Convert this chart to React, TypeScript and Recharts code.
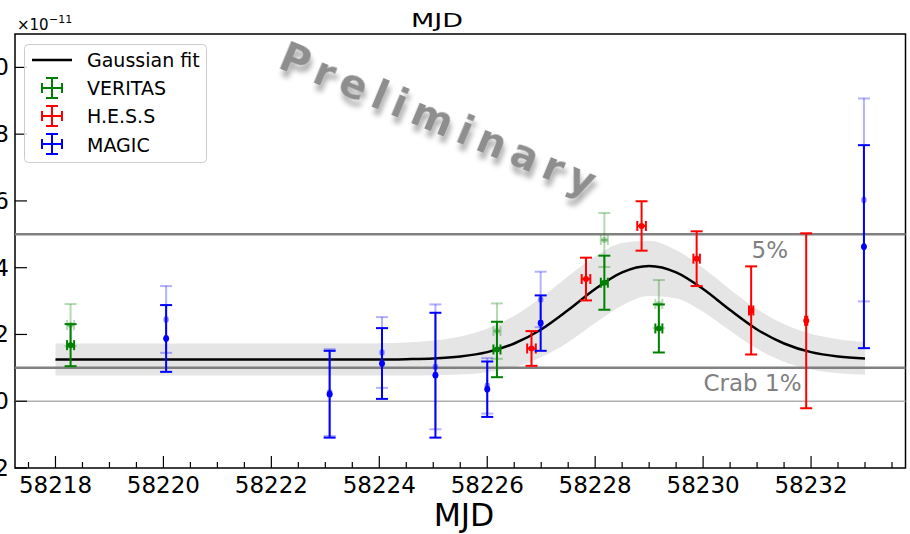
import React from "react";
import {
  Area,
  ComposedChart,
  ErrorBar,
  Label,
  Line,
  ReferenceArea,
  ReferenceLine,
  Scatter,
  XAxis,
  YAxis,
} from "recharts";

// flux values in units of 1e-11

const fitMjd = [
  58218, 58218.5, 58219, 58219.5, 58220, 58220.5, 58221, 58221.5, 58222,
  58222.5, 58223, 58223.5, 58224, 58224.5, 58225, 58225.5, 58226, 58226.5,
  58227, 58227.5, 58228, 58228.5, 58229, 58229.5, 58230, 58230.5, 58231,
  58231.5, 58232, 58232.5, 58233,
];
const fitFlux = [
  0.125, 0.125, 0.125, 0.125, 0.125, 0.125, 0.125, 0.125, 0.125, 0.125, 0.125,
  0.125, 0.125, 0.126, 0.128, 0.134, 0.147, 0.173, 0.215, 0.273, 0.336, 0.386,
  0.405, 0.386, 0.336, 0.273, 0.215, 0.173, 0.147, 0.134, 0.128,
];
const bandHigh = [
  0.173, 0.173, 0.173, 0.173, 0.173, 0.173, 0.173, 0.173, 0.173, 0.173, 0.173,
  0.173, 0.174, 0.176, 0.182, 0.194, 0.218, 0.256, 0.31, 0.374, 0.434, 0.474,
  0.481, 0.453, 0.399, 0.335, 0.276, 0.231, 0.202, 0.186, 0.178,
];
const bandLow = [
  0.077, 0.077, 0.077, 0.077, 0.077, 0.077, 0.077, 0.077, 0.077, 0.077, 0.077,
  0.077, 0.077, 0.077, 0.078, 0.08, 0.087, 0.102, 0.132, 0.177, 0.234, 0.287,
  0.315, 0.308, 0.268, 0.211, 0.157, 0.118, 0.095, 0.084, 0.079,
];

// VERITAS
const veritasMjd = [58218.28, 58226.18, 58228.17, 58229.18];
const veritasMjdErr = [0.065, 0.065, 0.065, 0.065];
const veritasFlux = [0.168, 0.155, 0.355, 0.218];
const veritasErr = [0.063, 0.083, 0.081, 0.072];
const veritasAltFlux = [0.228, 0.21, 0.483, 0.291];

// H.E.S.S
const hessMjd = [58226.82, 58227.83, 58228.86, 58229.88, 58230.89, 58231.91];
const hessMjdErr = [0.08, 0.08, 0.08, 0.06, 0.04, 0.02];
const hessFlux = [0.158, 0.366, 0.525, 0.427, 0.272, 0.241];
const hessErr = [0.052, 0.064, 0.074, 0.082, 0.132, 0.262];

// MAGIC
const magicMjd = [
  58220.05, 58223.08, 58224.05, 58225.04, 58226.0, 58226.99, 58232.98,
];
const magicMjdErr = [0.02, 0.02, 0.02, 0.02, 0.02, 0.02, 0.02];
const magicFlux = [0.188, 0.021, 0.113, 0.078, 0.036, 0.234, 0.463];
const magicErr = [0.1, 0.13, 0.106, 0.187, 0.083, 0.083, 0.304];
const magicAltFlux = [0.245, 0.026, 0.146, 0.103, 0.046, 0.305, 0.603];

const crabLevels = [0.1, 0.5];

const majorXTicks = [58218, 58220, 58222, 58224, 58226, 58228, 58230, 58232];
const allXTicks = Array.from({ length: 33 }, (_, i) => 58217.5 + i * 0.5);
const yTicks = [-0.2, 0, 0.2, 0.4, 0.6, 0.8, 1.0];
const yTickLabels = ["−0.2", "0.0", "0.2", "0.4", "0.6", "0.8", "1.0"];

const fitData = fitMjd.map((x, i) => ({
  x,
  fit: fitFlux[i],
  band: [bandLow[i], bandHigh[i]],
}));

const toPoints = (
  mjd: number[],
  mjdErr: number[],
  flux: number[],
  err: number[]
) => mjd.map((x, i) => ({ x, y: flux[i], ex: mjdErr[i], ey: err[i] }));

const veritas = toPoints(veritasMjd, veritasMjdErr, veritasFlux, veritasErr);
const veritasAlt = toPoints(veritasMjd, veritasMjdErr, veritasAltFlux, veritasErr);
const hess = toPoints(hessMjd, hessMjdErr, hessFlux, hessErr);
const magic = toPoints(magicMjd, magicMjdErr, magicFlux, magicErr);
const magicAlt = toPoints(magicMjd, magicMjdErr, magicAltFlux, magicErr);

const FONT = "DejaVu Sans";
const GREEN = "#008000";
const RED = "#ff0000";
const BLUE = "#0000ff";
const GREEN_FADED = "#0080004d";
const BLUE_FADED = "#0000ff4d";

const dot = (color: string) => (p: any) =>
  <circle cx={p.cx} cy={p.cy} r={3} fill={color} />;

const XTick = (props: any) => {
  const { x, y, payload } = props;
  const major = majorXTicks.some((t) => Math.abs(t - payload.value) < 1e-6);
  return (
    <g>
      <line
        x1={x}
        x2={x}
        y1={y}
        y2={y - (major ? 12 : 6)}
        stroke="#000"
        strokeWidth={1.2}
      />
      {major && (
        <text
          x={x}
          y={y + 25}
          textAnchor="middle"
          fontSize={23}
          fontFamily={FONT}
          fill="#000"
        >
          {payload.value}
        </text>
      )}
    </g>
  );
};

const YTick = (props: any) => {
  const { x, y, payload } = props;
  const idx = yTicks.findIndex((t) => Math.abs(t - payload.value) < 1e-6);
  return (
    <g>
      <line x1={x} x2={x + 12} y1={y} y2={y} stroke="#000" strokeWidth={1.2} />
      <text
        x={x - 6}
        y={y + 8}
        textAnchor="end"
        fontSize={23}
        fontFamily={FONT}
        fill="#000"
      >
        {idx >= 0 ? yTickLabels[idx] : ""}
      </text>
    </g>
  );
};

const levelLabel = (text: string, dx: number, anchor: string) => (p: any) => {
  const vb = p.viewBox || {};
  return (
    <text
      x={vb.x + vb.width - dx}
      y={vb.y + 23.5}
      textAnchor={anchor}
      fontSize={23}
      fontFamily={FONT}
      fill="#808080"
    >
      {text}
    </text>
  );
};

const ErrIcon = ({ cx, cy, color }: { cx: number; cy: number; color: string }) => (
  <g stroke={color} strokeWidth={2}>
    <line x1={cx} x2={cx} y1={cy - 10} y2={cy + 10} />
    <line x1={cx - 6} x2={cx + 6} y1={cy - 10} y2={cy - 10} />
    <line x1={cx - 6} x2={cx + 6} y1={cy + 10} y2={cy + 10} />
    <line x1={cx - 10} x2={cx + 10} y1={cy} y2={cy} />
    <line x1={cx - 10} x2={cx - 10} y1={cy - 5} y2={cy + 5} />
    <line x1={cx + 10} x2={cx + 10} y1={cy - 5} y2={cy + 5} />
  </g>
);

export default function App() {
  return (
    <div
      style={{
        position: "absolute",
        left: 0,
        top: 0,
        width: 910,
        height: 534,
        overflow: "hidden",
        background: "#fff",
      }}
    >
      <ComposedChart
        width={910}
        height={534}
        margin={{ top: 34, right: 4.5, bottom: 36, left: 0 }}
      >
        <XAxis
          type="number"
          dataKey="x"
          domain={[58217.25, 58233.75]}
          allowDataOverflow
          ticks={allXTicks}
          interval={0}
          height={30}
          tickSize={0}
          tickMargin={0}
          axisLine={false}
          tick={XTick}
        />
        <YAxis
          type="number"
          domain={[-0.2, 1.1]}
          allowDataOverflow
          ticks={yTicks}
          interval={0}
          width={15}
          tickSize={0}
          tickMargin={0}
          axisLine={false}
          tick={YTick}
        />
        <ReferenceLine y={0} stroke="#b0b0b0" strokeWidth={1.5} />
        <ReferenceLine y={crabLevels[0]} stroke="#808080" strokeWidth={2.5}>
          <Label content={levelLabel("Crab 1%", 104, "end")} />
        </ReferenceLine>
        <ReferenceLine y={crabLevels[1]} stroke="#808080" strokeWidth={2.5}>
          <Label content={levelLabel("5%", 154, "start")} />
        </ReferenceLine>
        <Area
          data={fitData}
          dataKey="band"
          type="monotone"
          stroke="none"
          fill="#000"
          fillOpacity={0.1}
          isAnimationActive={false}
        />
        <Line
          data={fitData}
          dataKey="fit"
          type="monotone"
          stroke="#000"
          strokeWidth={2.5}
          dot={false}
          isAnimationActive={false}
        />
        <Scatter
          data={veritasAlt}
          dataKey="y"
          fill={GREEN_FADED}
          shape={dot(GREEN_FADED)}
          isAnimationActive={false}
        >
          <ErrorBar dataKey="ey" direction="y" width={6} stroke={GREEN_FADED} strokeWidth={2} isAnimationActive={false} />
          <ErrorBar dataKey="ex" direction="x" width={5} stroke={GREEN_FADED} strokeWidth={2} isAnimationActive={false} />
        </Scatter>
        <Scatter
          data={magicAlt}
          dataKey="y"
          fill={BLUE_FADED}
          shape={dot(BLUE_FADED)}
          isAnimationActive={false}
        >
          <ErrorBar dataKey="ey" direction="y" width={6} stroke={BLUE_FADED} strokeWidth={2} isAnimationActive={false} />
          <ErrorBar dataKey="ex" direction="x" width={3} stroke={BLUE_FADED} strokeWidth={2} isAnimationActive={false} />
        </Scatter>
        <Scatter
          data={veritas}
          dataKey="y"
          fill={GREEN}
          shape={dot(GREEN)}
          isAnimationActive={false}
        >
          <ErrorBar dataKey="ey" direction="y" width={6} stroke={GREEN} strokeWidth={2} isAnimationActive={false} />
          <ErrorBar dataKey="ex" direction="x" width={5} stroke={GREEN} strokeWidth={2} isAnimationActive={false} />
        </Scatter>
        <Scatter
          data={hess}
          dataKey="y"
          fill={RED}
          shape={dot(RED)}
          isAnimationActive={false}
        >
          <ErrorBar dataKey="ey" direction="y" width={6} stroke={RED} strokeWidth={2} isAnimationActive={false} />
          <ErrorBar dataKey="ex" direction="x" width={5} stroke={RED} strokeWidth={2} isAnimationActive={false} />
        </Scatter>
        <Scatter
          data={magic}
          dataKey="y"
          fill={BLUE}
          shape={dot(BLUE)}
          isAnimationActive={false}
        >
          <ErrorBar dataKey="ey" direction="y" width={6} stroke={BLUE} strokeWidth={2} isAnimationActive={false} />
          <ErrorBar dataKey="ex" direction="x" width={3} stroke={BLUE} strokeWidth={2} isAnimationActive={false} />
        </Scatter>
        <ReferenceArea
          x1={58217.25}
          x2={58233.75}
          y1={-0.2}
          y2={1.1}
          fill="none"
          stroke="#000"
          strokeWidth={1.5}
          ifOverflow="visible"
        />
      </ComposedChart>

      {/* titles, legend and watermark */}
      <svg
        width={910}
        height={534}
        style={{ position: "absolute", left: 0, top: 0, pointerEvents: "none" }}
      >
        <defs>
          <filter id="wmShadow" x="-20%" y="-40%" width="140%" height="180%">
            <feDropShadow dx="4" dy="6" stdDeviation="2.5" floodColor="#000" floodOpacity="0.3" />
          </filter>
        </defs>
        <text x={437} y={27} textAnchor="middle" fontSize={20} fontFamily={FONT} textLength={52} lengthAdjust="spacingAndGlyphs">
          MJD
        </text>
        <text x={464} y={526} textAnchor="middle" fontSize={31.5} fontFamily={FONT}>
          MJD
        </text>
        <text x={17} y={30} fontSize={15} fontFamily={FONT}>
          ×10
        </text>
        <text x={49} y={22.5} fontSize={11} fontFamily={FONT}>
          −11
        </text>

        <text
          x={438}
          y={119}
          textAnchor="middle"
          dominantBaseline="central"
          fontFamily={FONT}
          fontWeight="bold"
          fontSize={40}
          fill="#8e8e8e"
          textLength={338}
          lengthAdjust="spacing"
          transform="rotate(22.5 438 119)"
          filter="url(#wmShadow)"
        >
          Preliminary
        </text>

        <rect x={24.5} y={44.5} width={182} height={118} rx={4} fill="#fff" fillOpacity={0.8} stroke="#cccccc" />
        <line x1={32} x2={72} y1={60} y2={60} stroke="#000" strokeWidth={2.5} />
        <ErrIcon cx={52} cy={88} color={GREEN} />
        <ErrIcon cx={52} cy={116} color={RED} />
        <ErrIcon cx={52} cy={144} color={BLUE} />
        <g fontSize={19} fontFamily={FONT} fill="#000">
          <text x={87} y={66.5}>Gaussian fit</text>
          <text x={87} y={95}>VERITAS</text>
          <text x={87} y={123}>H.E.S.S</text>
          <text x={87} y={151.5}>MAGIC</text>
        </g>
      </svg>
    </div>
  );
}
